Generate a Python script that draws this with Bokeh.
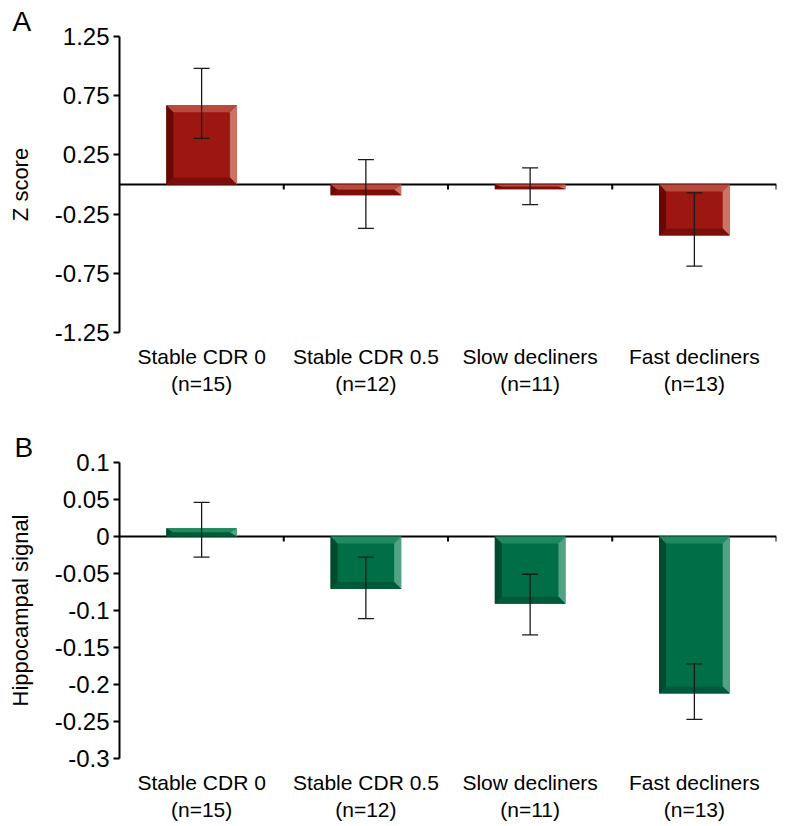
import math
from bokeh.plotting import figure
from bokeh.models import Range1d, FixedTicker, Title
from bokeh.layouts import column
from bokeh.embed import file_html
from bokeh.resources import INLINE

# ---------------- data ----------------
categories = ["Stable CDR 0\n(n=15)", "Stable CDR 0.5\n(n=12)",
              "Slow decliners\n(n=11)", "Fast decliners\n(n=13)"]

z_mean = [0.67, -0.09, -0.04, -0.43]
z_upper = [0.98, 0.21, 0.14, -0.07]
z_lower = [0.39, -0.37, -0.17, -0.69]
z_ticks = [1.25, 0.75, 0.25, -0.25, -0.75, -1.25]
z_tick_labels = ["1.25", "0.75", "0.25", "-0.25", "-0.75", "-1.25"]

h_mean = [0.011, -0.071, -0.091, -0.212]
h_upper = [0.046, -0.028, -0.051, -0.172]
h_lower = [-0.028, -0.111, -0.133, -0.247]
h_ticks = [0.1, 0.05, 0, -0.05, -0.1, -0.15, -0.2, -0.25, -0.3]
h_tick_labels = ["0.1", "0.05", "0", "-0.05", "-0.1", "-0.15", "-0.2", "-0.25", "-0.3"]

RED = dict(face="#9C1612", top="#B84A3C", right="#CC7464", bottom="#7C0E0A", left="#680806")
GREEN = dict(face="#006F48", top="#1F8A62", right="#52A284", bottom="#005A3A", left="#004A2E")

FONT = "Liberation Sans"
FRAME_W = 657
LEFT = 119
BEVEL = 7
BAR_W = 0.43


def make_panel(letter, ylabel, means, upper, lower, ticks, tick_labels,
               y0, y1, colors, frame_h, top, bottom, letter_x):
    n = len(means)
    p = figure(frame_width=FRAME_W, frame_height=frame_h,
               x_range=Range1d(0, n), y_range=Range1d(y0, y1),
               output_backend="svg", toolbar_location=None,
               min_border_left=LEFT, min_border_right=2,
               min_border_top=top, min_border_bottom=bottom)
    p.outline_line_color = None
    p.grid.visible = False
    p.background_fill_color = "white"

    p.title = Title(text=letter, align="left", offset=-(LEFT - letter_x),
                    text_font=FONT, text_font_size="28px",
                    text_font_style="normal", text_color="black", standoff=0)

    centers = [i + 0.5 for i in range(n)]

    # zero baseline with downward category ticks
    p.segment(x0=[0], y0=[0], x1=[n], y1=[0], line_color="black", line_width=2)
    p.ray(x=[i + 1 for i in range(n)], y=[0] * n, length=5, length_units="screen",
          angle=-math.pi / 2, line_color="black", line_width=2)

    # bevelled bars
    bx = BEVEL * n / FRAME_W
    by_full = BEVEL * (y1 - y0) / frame_h
    xs, ys, cs = [], [], []
    left_x, right_x, tops, bots = [], [], [], []
    for c, m in zip(centers, means):
        x0, x1 = c - BAR_W / 2, c + BAR_W / 2
        yb, yt = min(0, m), max(0, m)
        by = min(by_full, (yt - yb) / 2)
        left_x.append(x0); right_x.append(x1); tops.append(yt); bots.append(yb)
        xs += [[x0, x1, x1 - bx, x0 + bx],
               [x1, x1, x1 - bx, x1 - bx],
               [x0, x1, x1 - bx, x0 + bx],
               [x0, x0, x0 + bx, x0 + bx]]
        ys += [[yt, yt, yt - by, yt - by],
               [yt, yb, yb + by, yt - by],
               [yb, yb, yb + by, yb + by],
               [yt, yb, yb + by, yt - by]]
        cs += [colors["top"], colors["right"], colors["bottom"], colors["left"]]
    p.quad(left=left_x, right=right_x, top=tops, bottom=bots,
           fill_color=colors["face"], line_color=None)
    p.patches(xs=xs, ys=ys, fill_color=cs, line_color=None)

    # error bars
    wc = "#1a1a1a"
    p.segment(x0=centers, y0=lower, x1=centers, y1=upper, line_color=wc, line_width=1.3)
    p.scatter(x=centers + centers, y=list(upper) + list(lower), marker="dash",
              size=16, line_color=wc, line_width=1.3)

    # y axis
    ya = p.yaxis[0]
    ya.ticker = FixedTicker(ticks=ticks)
    ya.major_label_overrides = {t: l for t, l in zip(ticks, tick_labels)}
    ya.minor_tick_line_color = None
    ya.major_tick_in = 0
    ya.major_tick_out = 6
    ya.major_tick_line_width = 2
    ya.axis_line_width = 2
    ya.axis_line_color = "black"
    ya.major_tick_line_color = "black"
    ya.major_label_text_font = FONT
    ya.major_label_text_font_size = "24px"
    ya.major_label_text_color = "black"
    ya.major_label_standoff = 4
    ya.axis_label = ylabel
    ya.axis_label_text_font = FONT
    ya.axis_label_text_font_size = "22px"
    ya.axis_label_text_font_style = "normal"
    ya.axis_label_text_color = "black"
    ya.axis_label_standoff = 19

    # x axis (labels only)
    xa = p.xaxis[0]
    xa.ticker = FixedTicker(ticks=centers)
    xa.major_label_overrides = {c: l for c, l in zip(centers, categories)}
    xa.axis_line_color = None
    xa.major_tick_line_color = None
    xa.minor_tick_line_color = None
    xa.major_label_text_font = FONT
    xa.major_label_text_font_size = "21px"
    xa.major_label_text_color = "black"
    xa.major_label_standoff = 6
    return p


pa = make_panel("A", "Z score", z_mean, z_upper, z_lower, z_ticks, z_tick_labels,
                -1.25, 1.25, RED, 296, 36, 61, 12)
pb = make_panel("B", "Hippocampal signal", h_mean, h_upper, h_lower, h_ticks, h_tick_labels,
                -0.3, 0.1, GREEN, 296, 64, 57, 14)

layout = column(pa, pb, spacing=0)
open("out.html", "w").write(file_html(layout, INLINE))
